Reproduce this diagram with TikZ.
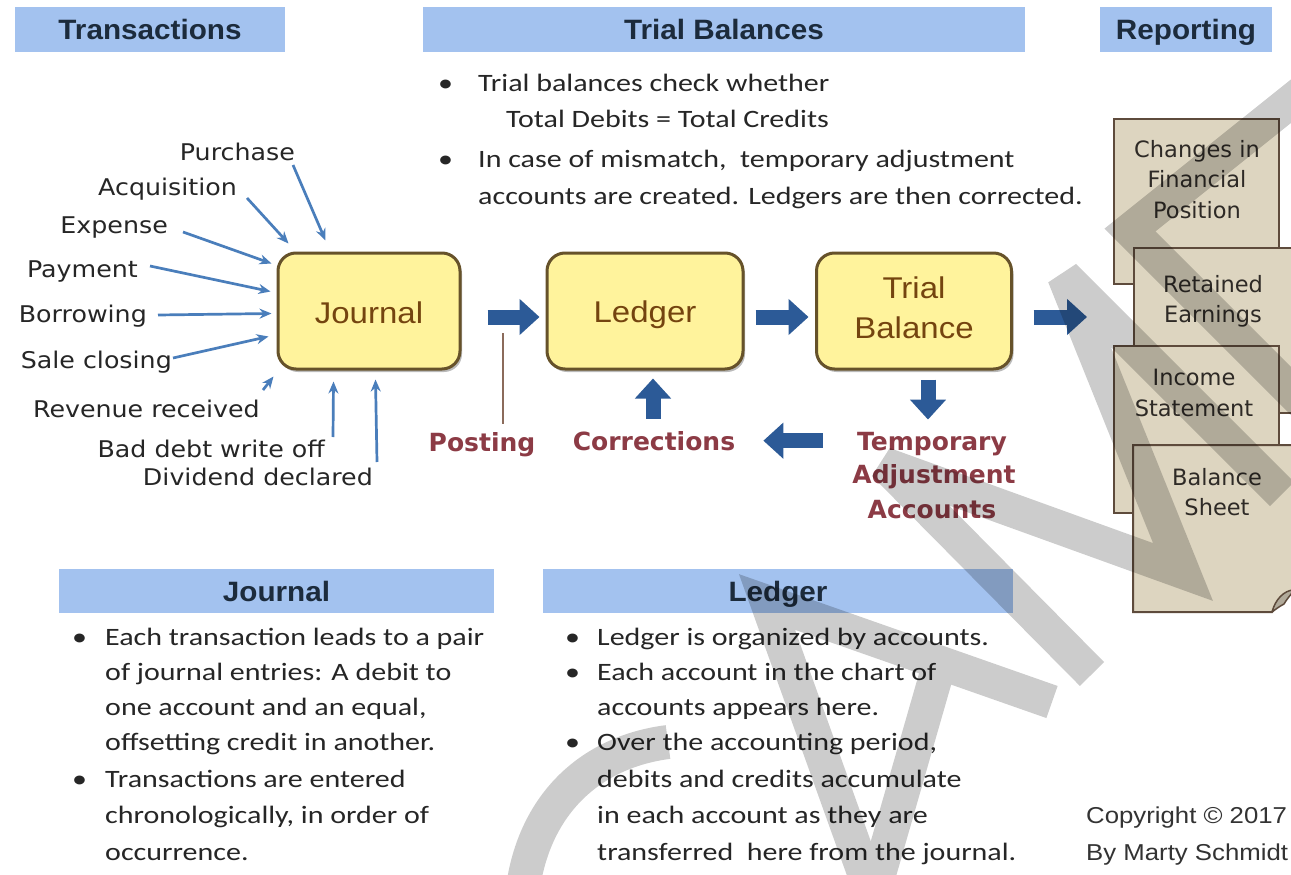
\documentclass[tikz,border=0pt]{standalone}
\usepackage{fontspec}
\setmainfont{Carlito}
\usetikzlibrary{arrows.meta,calc,shadows}

\newfontfamily\hdrfont[FakeStretch=1.06]{Liberation Sans}
\newfontfamily\bodyfont[FakeStretch=1.2]{Carlito}
\newfontfamily\lblfont[FakeStretch=1.1]{DejaVu Sans}
\newfontfamily\boxfont[FakeStretch=1.1]{Liberation Sans}
\newfontfamily\redfont{DejaVu Sans}
\newfontfamily\docfont{DejaVu Sans}
\newfontfamily\copyfont[FakeStretch=1.12]{Liberation Sans}

\definecolor{hdrblue}{HTML}{A3C2EF}
\definecolor{hdrtext}{HTML}{1C2B3C}
\definecolor{boxfill}{HTML}{FFF39C}
\definecolor{boxedge}{HTML}{66522A}
\definecolor{boxtext}{HTML}{74440F}
\definecolor{redlbl}{HTML}{8C3B45}
\definecolor{fatblue}{HTML}{2C5A97}
\definecolor{thinblue}{HTML}{4A7EBB}
\definecolor{bodytext}{HTML}{262626}
\definecolor{docfill}{HTML}{DDD5C0}
\definecolor{docedge}{HTML}{5E4B3C}
\definecolor{doctext}{HTML}{2E2A26}
\definecolor{postline}{HTML}{8B6B5B}

\begin{document}
\begin{tikzpicture}[x=1pt,y=-1pt,
  hdr/.style={fill=hdrblue, inner sep=0, text height=20, text depth=0,
    font=\hdrfont\bfseries\fontsize{28}{32}\selectfont, text=hdrtext},
  body/.style={font=\bodyfont\fontsize{25}{30}\selectfont, text=bodytext, inner sep=0, anchor=base west},
  txlbl/.style={font=\lblfont\fontsize{23}{28}\selectfont, text=bodytext, inner sep=0, anchor=base east},
  stepbox/.style={rounded corners=18, fill=boxfill, draw=boxedge, line width=3,
    drop shadow={shadow xshift=2pt, shadow yshift=-3pt, opacity=0.45, fill=black!60}},
  boxlbl/.style={font=\boxfont\fontsize{30}{36}\selectfont, text=boxtext, inner sep=0, anchor=base},
  redtxt/.style={font=\redfont\bfseries\fontsize{25}{34}\selectfont, text=redlbl, inner sep=0, anchor=base},
  fat/.style={draw=fatblue, line width=15, -{Triangle[length=20pt,width=35pt]}},
  tx/.style={draw=thinblue, line width=2.7, -{Stealth[length=12pt,width=10pt]}},
  doc/.style={fill=docfill, draw=docedge, line width=2},
  doctxt/.style={font=\docfont\fontsize{22.5}{30}\selectfont, text=doctext, inner sep=0, anchor=base},
  copytxt/.style={font=\copyfont\fontsize{23}{28}\selectfont, text=black!80, inner sep=0, anchor=base west},
  wm/.style={draw=black, line width=34, line join=miter, miter limit=3, line cap=butt}
]
\useasboundingbox (0,0) rectangle (1291,875);
\fill[white] (0,0) rectangle (1291,875);

% ---------- section headers ----------
\node[hdr, minimum width=270, minimum height=45] (hTrans) at (150,29.5) {Transactions};
\node[hdr, minimum width=602, minimum height=45] (hTB) at (724,29.5) {Trial Balances};
\node[hdr, minimum width=172, minimum height=45] (hRep) at (1186,29.5) {Reporting};
\node[hdr, minimum width=435, minimum height=44] (hJour) at (276.5,591) {Journal};
\node[hdr, minimum width=470, minimum height=44] (hLed) at (778,591) {Ledger};

% ---------- trial balance notes ----------
\node[body] (tbul1) at (438,92) {•};
\node[body] (tbul2) at (438,167) {•};
\node[body] (tbt1) at (478,92) {Trial balances check whether};
\node[body] (tbt2) at (506,128) {Total Debits = Total Credits};
\node[body] (tbt3) at (478,167) {In case of mismatch,\ \ temporary adjustment};
\node[body] (tbt4) at (478,204) {accounts are created. Ledgers are then corrected.};

% ---------- process boxes ----------
\node[stepbox, minimum width=182, minimum height=116] (jr) at (369,311) {};
\node[stepbox, minimum width=196, minimum height=116] (lg) at (645,311) {};
\node[stepbox, minimum width=195, minimum height=116] (tb) at (914,311) {};
\node[boxlbl] (jrl) at (369,323) {Journal};
\node[boxlbl] (lgl) at (645,322) {Ledger};
\node[boxlbl] (tbl1) at (914,298) {Trial};
\node[boxlbl] (tbl2) at (914,338) {Balance};

% ---------- transaction sources ----------
\node[txlbl] (lPur) at (295,160) {Purchase};
\node[txlbl] (lAcq) at (237,195) {Acquisition};
\node[txlbl] (lExp) at (168,233) {Expense};
\node[txlbl] (lPay) at (138,277) {Payment};
\node[txlbl] (lBor) at (147,322) {Borrowing};
\node[txlbl] (lSal) at (172,368) {Sale closing};
\node[txlbl] (lRev) at (260,417) {Revenue received};
\node[txlbl] (lBad) at (325,457) {Bad debt write off};
\node[txlbl] (lDiv) at (373,485) {Dividend declared};

\draw[tx] ($(lPur.base east)+(-2,5)$) -- ($(jr.north west)+(49,-11)$);
\draw[tx] ($(lAcq.base east)+(10,3)$) -- ($(jr.north west)+(12,-8)$);
\draw[tx] ($(lExp.base east)+(15,-1)$) -- ($(jr.north west)+(-5,12)$);
\draw[tx] ($(lPay.base east)+(12,-11)$) -- ($(jr.north west)+(-6,40)$);
\draw[tx] ($(lBor.base east)+(11,-7)$) -- ($(jr.north west)+(-5,62)$);
\draw[tx] ($(lSal.base east)+(1,-10)$) -- ($(jr.north west)+(-8,85)$);
\draw[tx] ($(lRev.base east)+(3,-27)$) -- ($(jr.south west)+(-3,6)$);
\draw[tx] ($(lBad.base east)+(8,-20)$) -- ($(jr.south west)+(57,11)$);
\draw[tx] ($(lDiv.base east)+(4,-23)$) -- ($(jr.south west)+(99,9)$);

% ---------- flow labels ----------
\node[redtxt] (pst) at (482,451) {Posting};
\node[redtxt] (corr) at (654,450) {Corrections};
\node[redtxt] (tmp1) at (932,450) {Temporary};
\node[redtxt] (tmp2) at (934,483) {Adjustment};
\node[redtxt] (tmp3) at (932,518) {Accounts};

% ---------- flow arrows ----------
\coordinate (repin) at (1087,317);
\coordinate (postx) at (503,333);
\coordinate (upx) at (653,0);
\draw[fat] ($(jr.east)+(26,6)$) -- ($(lg.west)+(-6,6)$);
\draw[fat] ($(lg.east)+(11,6)$) -- ($(tb.west)+(-6.5,6)$);
\draw[fat] ($(tb.east)+(20.5,6)$) -- (repin);
\draw[fat] ($(tb.south)+(14,9)$) -- ($(tmp1.north)+(-4,-12)$);
\draw[fat, shorten <=34, shorten >=28] (tmp1.west |- corr.east) -- (corr.east);
\draw[fat, shorten <=12, shorten >=8] (corr.north -| upx) -- (lg.south -| upx);
\draw[postline, line width=1.5, shorten <=8] (pst.north -| postx) -- (postx);

% ---------- reporting documents ----------
\node[doc, minimum width=165, minimum height=165, anchor=north west] (doc1) at (1113,118) {};
\node[doc, minimum width=167, minimum height=165, anchor=north west] (doc2) at (1133,247) {};
\node[doc, minimum width=165, minimum height=167, anchor=north west] (doc3) at (1113,345) {};
\path[doc] (1133,445) -- (1302,445) -- (1302,588)
  .. controls (1292,590) and (1280,600) .. (1272,612) -- (1133,612) -- cycle;
\draw[docedge, line width=1.5, fill=docfill!80!black]
  (1272,612) .. controls (1275,600) and (1284,590) .. (1294,590)
  .. controls (1290,596) and (1286,600) .. (1284,604)
  .. controls (1280,606) and (1276,609) .. (1272,612);
\node[doctxt] (d1a) at (1197,157) {Changes in};
\node[doctxt] (d1b) at (1197,187) {Financial};
\node[doctxt] (d1c) at (1197,218) {Position};
\node[doctxt] (d2a) at (1213,292) {Retained};
\node[doctxt] (d2b) at (1213,322) {Earnings};
\node[doctxt] (d3a) at (1194,385) {Income};
\node[doctxt] (d3b) at (1194,416) {Statement};
\node[doctxt] (d4a) at (1217,485) {Balance};
\node[doctxt] (d4b) at (1217,515) {Sheet};

% ---------- journal notes ----------
\node[body] (jbul1) at (72,645) {•};
\node[body] (jbul2) at (72,787) {•};
\foreach \yy/\txt [count=\k] in {645/Each transaction leads to a pair,
    680/{of journal entries: A debit to}, 715/{one account and an equal,},
    750/offsetting credit in another., 787/Transactions are entered,
    823/{chronologically, in order of}, 860/occurrence.}
  \node[body] (jb\k) at (105,\yy) {\txt};

% ---------- ledger notes ----------
\node[body] (lbul1) at (565,645) {•};
\node[body] (lbul2) at (565,680) {•};
\node[body] (lbul3) at (565,750) {•};
\foreach \yy/\txt [count=\k] in {645/Ledger is organized by accounts.,
    680/Each account in the chart of, 715/accounts appears here.,
    750/{Over the accounting period,}, 787/debits and credits accumulate,
    823/in each account as they are, 860/transferred\ \ here from the journal.}
  \node[body] (lb\k) at (597,\yy) {\txt};

% ---------- copyright ----------
\node[copytxt] (cpy1) at (1086,823) {Copyright © 2017};
\node[copytxt] (cpy2) at (1086,860) {By Marty Schmidt};

% ---------- watermark strokes ----------
\begin{scope}[transparency group, opacity=0.2]
  \draw[wm] (522,895) .. controls (532,805) and (590,752) .. (668,742);
  \draw[wm] (872,895) -- (767,602) -- (1052,702);
  \draw[wm] (940,662) -- (873,895);
  \draw[wm] (1092,674) -- (884,464) -- (1183,572) -- (1064,276) -- (1282,494);
  \draw[wm] (1315,82) -- (1130,230) -- (1315,415);
\end{scope}
\end{tikzpicture}
\end{document}
